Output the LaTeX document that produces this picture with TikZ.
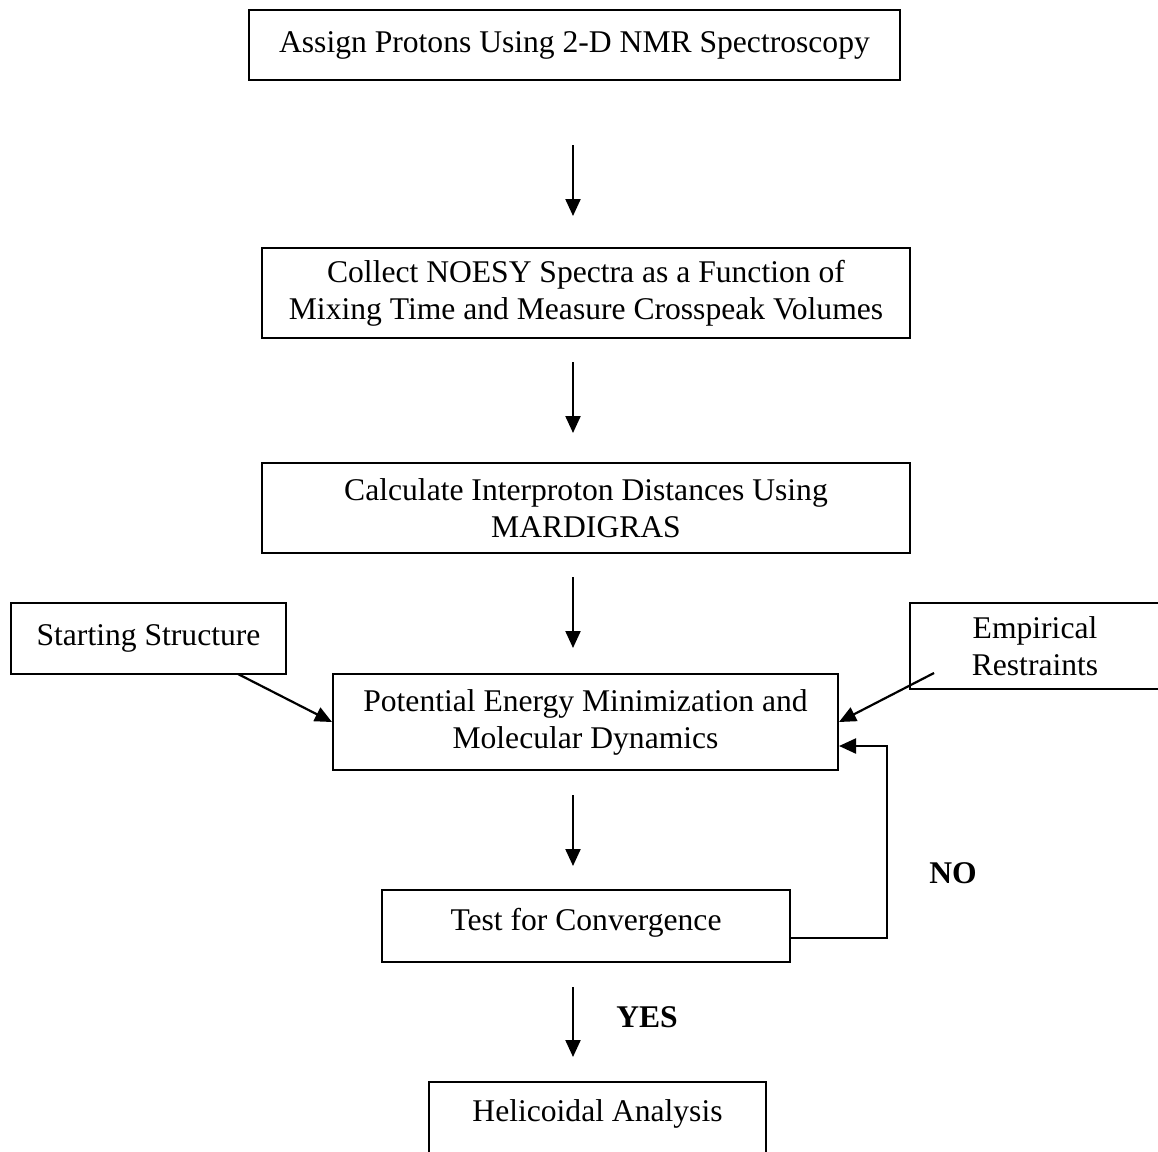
\documentclass[tikz,border=0pt]{standalone}
\usepackage{fontspec}
\setmainfont{Liberation Serif}
\usetikzlibrary{arrows.meta,positioning}
\tikzset{
    %Define standard arrow tip
    >={Triangle[length=17pt,width=15pt]},
    %Define style for boxes
    punktrect/.style={
           rectangle,
           draw=black, line width=2pt,
           inner sep=0pt,
           font=\fontsize{31.6}{37}\selectfont,
           align=center},
    % Define arrow style
    pil/.style={
           ->,
           line width=2.2pt}
}
\begin{document}
\begin{tikzpicture}[x=1pt,y=-1pt]
\useasboundingbox (0,0) rectangle (1158,1151);

 %boxes
\node[punktrect, minimum width=651pt, minimum height=70pt] (assign) at (574.5,45)
    {Assign Protons Using 2-D NMR Spectroscopy};
\node[punktrect, minimum width=648pt, minimum height=90pt] (noesy) at (586,293)
    {Collect NOESY Spectra as a Function of\\Mixing Time and Measure Crosspeak Volumes};
\node[punktrect, minimum width=648pt, minimum height=90pt] (mardi) at (586,508)
    {Calculate Interproton Distances Using\\MARDIGRAS};
\node[punktrect, minimum width=275pt, minimum height=71pt] (start) at (148.5,638.5)
    {Starting Structure};
\node[punktrect, minimum width=250pt, minimum height=86pt] (empir) at (1035,646)
    {Empirical\\Restraints};
\node[punktrect, minimum width=505pt, minimum height=96pt] (energy) at (585.5,722)
    {Potential Energy Minimization and\\Molecular Dynamics};
\node[punktrect, minimum width=408pt, minimum height=72pt, text depth=14pt] (test) at (586,926)
    {Test for Convergence};
\node[punktrect, minimum width=337pt, minimum height=78pt, text depth=20pt] (heli) at (597.5,1121)
    {Helicoidal Analysis};

 %free arrow ends
\coordinate (a1) at (573,145);  \coordinate (b1) at (573,216);
\coordinate (a2) at (573,362);  \coordinate (b2) at (573,433);
\coordinate (a3) at (573,577);  \coordinate (b3) at (573,648);
\coordinate (a4) at (573,795);  \coordinate (b4) at (573,866);
\coordinate (a5) at (573,987);  \coordinate (b5) at (573,1057);
\coordinate (ss) at (238,674);
\coordinate (es) at (934,673);

 %arrows
\draw[pil] (a1) -- (b1);
\draw[pil] (a2) -- (b2);
\draw[pil] (a3) -- (b3);
\draw[pil] (a4) -- (b4);
\draw[pil] (a5) -- (b5);
\draw[pil] (ss) -- (energy.west);
\draw[pil] (es) -- (energy.east);
\draw[pil] ([yshift=-12pt]test.east) -| ([xshift=48pt,yshift=-24pt]energy.east)
    -- ([yshift=-24pt]energy.east);

 %labels
\node[font=\fontsize{31.6}{37}\selectfont\bfseries] (no) at (953,873) {NO};
\node[font=\fontsize{31.6}{37}\selectfont\bfseries] (yes) at (647,1017) {YES};

\end{tikzpicture}
\end{document}
